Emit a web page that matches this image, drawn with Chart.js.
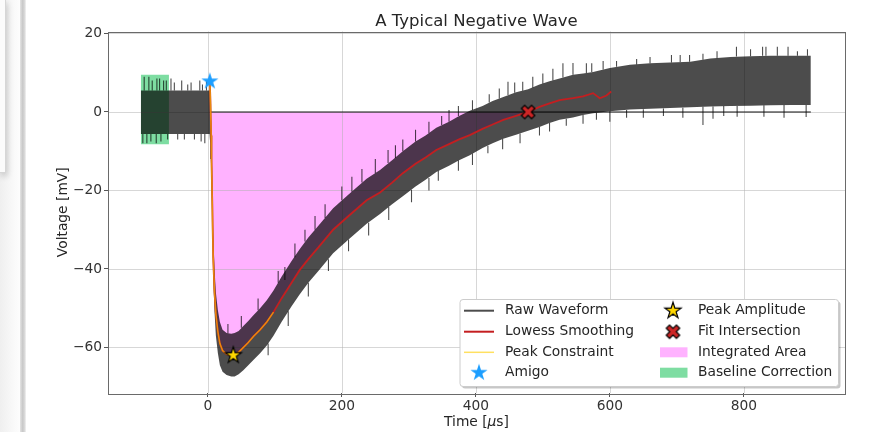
<!DOCTYPE html>
<html>
<head>
<meta charset="utf-8">
<script src="https://cdn.jsdelivr.net/npm/chart.js@4.4.1/dist/chart.umd.min.js"></script>
<style>
html,body{margin:0;padding:0;background:#fff;}
#wrap{position:relative;width:889px;height:432px;overflow:hidden;background:#fff;}
#c{position:absolute;left:0;top:0;}
.under{position:absolute;left:0;top:0;width:20px;height:432px;background:linear-gradient(to right,#efefef,#f8f8f8 60%,#fdfdfd);}
.panel{position:absolute;left:0;top:0;width:5px;height:172px;background:#fbfbfb;border-right:1px solid #d6d6d6;border-bottom:1px solid #d6d6d6;box-shadow:1px 3px 6px rgba(0,0,0,0.22);}
.stripe{position:absolute;left:20px;top:0;width:6px;height:432px;background:linear-gradient(to right,#e4e4e4,#c8c8c8 45%,#d9d9d9 75%,#f3f3f3);}
</style>
</head>
<body>
<div id="wrap">
<canvas id="c" width="889" height="432"></canvas>
<div class="under"></div><div class="panel"></div><div class="stripe"></div>
</div>
<script>
// ---------- data ----------
const xTicks = [0, 200, 400, 600, 800];
const yTicks = [-60, -40, -20, 0, 20];

// Lowess smoothing (red)
const lowessTime = [3, 4, 5, 5.5, 6.5, 8, 10, 12, 15, 18, 22, 28, 35, 40, 46, 53, 60, 68, 78, 88, 98, 110, 125, 137, 150, 165, 187, 210, 237, 257, 275, 291, 310, 325, 341, 360, 375, 391, 410, 425, 441, 460, 478, 495, 510, 525, 545, 560, 575, 585, 595, 602];
const lowessVoltage = [7.8, 2, -6, -12, -22, -37, -46, -51.5, -56, -59, -60.8, -61.7, -62, -61.8, -61.2, -60, -58.8, -57.2, -55.5, -53.5, -51, -47.5, -43.5, -40.3, -37.5, -34.5, -30, -26.5, -22.5, -20.5, -18, -15.6, -13.2, -11.6, -9.7, -8.2, -7, -5.9, -4.3, -3.2, -2.0, -1.0, 0, 1.3, 2.2, 3.0, 3.5, 4.0, 4.8, 3.5, 4.2, 5.2];

// Peak constraint (yellow)
const peakTime = [3, 4, 5, 5.5, 6.5, 8, 10, 12, 15, 18, 22, 28, 35, 40, 46, 53, 60, 68, 78, 88, 98];
const peakVoltage = [7.8, 2, -6, -12, -22, -37, -46, -51.5, -56, -59, -60.8, -61.7, -62, -61.8, -61.2, -60, -58.8, -57.2, -55.5, -53.5, -51];

// Raw waveform envelope (upper / lower edge of the noisy trace)
const rawTime = [-100, -90, -80, -70, -60, -50, -40, -30, -20, -10, 0, 2.5, 3.5, 4.5, 5.5, 6.5, 8, 10, 12, 15, 18, 22, 28, 35, 40, 46, 53, 60, 68, 78, 88, 98, 110, 125, 137, 150, 165, 187, 210, 237, 257, 275, 291, 310, 325, 341, 360, 375, 391, 410, 425, 441, 460, 478, 495, 510, 525, 545, 560, 575, 600, 630, 660, 690, 720, 750, 780, 810, 840, 870, 900];
const rawUpper = [5.5, 5.5, 5.5, 5.5, 5.5, 5.5, 5.5, 5.5, 5.5, 5.5, 5.5, 5.5, 5.5, 0, -6, -16, -31, -40, -46, -50.5, -53.5, -55.5, -56.3, -56.5, -56.3, -55.8, -54.5, -53.3, -51.8, -50, -48, -45.5, -42, -38, -35, -32, -29, -24.5, -21, -17, -14.8, -12.3, -10, -7.5, -6, -4, -2.5, -1, 0.3, 1.5, 2.8, 3.8, 5, 5.8, 7, 7.8, 8.5, 9.5, 9.8, 10.2, 11.2, 12, 12.4, 12.6, 12.8, 13.6, 14, 14.2, 14.3, 14.3, 14.3];
const rawLower = [-5.6, -5.6, -5.6, -5.6, -5.6, -5.6, -5.6, -5.6, -5.6, -5.6, -5.6, -5.6, -8, -12, -18, -28, -42, -51, -57, -61.5, -64.5, -66.2, -67, -67.4, -67.4, -66.8, -65.8, -64.6, -63.2, -61.5, -59.5, -57, -53.5, -49.5, -46.5, -43.5, -40.5, -36, -32.5, -28.5, -26, -23.5, -21.5, -19, -17.3, -15.3, -13.7, -12.3, -11, -9.2, -8, -6.8, -5.8, -4.8, -3.8, -2.8, -2, -1.4, -0.8, -0.3, 0.2, 0.6, 0.8, 1, 1.2, 1.4, 1.5, 1.6, 1.7, 1.8, 1.8];

// Isolated noise spikes of the raw waveform (time, edge value, tip value)
const spikeTime = [-95, -88, -83, -76, -72, -66, -62, -55, -50, -39, -30, -25, -12, -8, -2, -97, -91, -85, -77, -70, -60, -45, -35, -20, -10, -4.5,
  30, 50, 75, 105, 115, 130, 145, 160, 175, 200, 215, 230, 250, 269, 280, 291, 310, 330, 349, 360, 374, 395, 420, 435, 448, 458, 470, 485, 500, 515, 530, 545, 565, 573, 590, 610, 640, 660, 692, 705, 719, 739, 760, 789, 810, 828, 833, 850, 866, 880, 895,
  90, 120, 150, 180, 210, 240, 270, 304, 330, 344, 374, 395, 418, 440, 466, 495, 510, 535, 560, 580, 600, 625, 650, 680, 709, 739, 754, 770, 790, 830, 860, 893];
const spikeFrom = [5.5, 5.5, 5.5, 5.5, 5.5, 5.5, 5.5, 5.5, 5.5, 5.5, 5.5, 5.5, 5.5, 5.5, 5.5, -5.6, -5.6, -5.6, -5.6, -5.6, -5.6, -5.6, -5.6, -5.6, -5.6, -5.6,
  -56.4, -55, -50.5, -43.5, -42.8, -37, -33, -30, -27, -22.5, -20.3, -18, -15.6, -13, -11.7, -10, -7.5, -5.4, -3.3, -2.5, -1, 0.5, 2.4, 3.4, 4.3, 4.9, 5.4, 6.2, 7.2, 8, 8.8, 9.5, 9.9, 10.2, 10.8, 11.5, 12.1, 12.4, 12.6, 12.7, 12.8, 13.3, 13.7, 14.1, 14.2, 14.3, 14.3, 14.3, 14.3, 14.3, 14.3,
  -59, -50.8, -43.5, -37.5, -32.5, -28.2, -24.2, -19.8, -16.8, -15, -12.3, -10.6, -8.6, -6.9, -5.5, -3.8, -2.8, -1.7, -0.8, -0.2, 0.2, 0.5, 0.7, 0.9, 1.1, 1.3, 1.4, 1.5, 1.5, 1.7, 1.8, 1.8];
const spikeTo = [9, 9, 8, 8.5, 8.5, 8, 8, 8.5, 7.5, 8, 7, 7.5, 8, 7, 8, -8, -8, -7.5, -8, -7.5, -7, -7, -7, -7, -7.5, -8,
  -54, -52, -47.5, -40.5, -39.5, -33.5, -30, -26.5, -23.5, -19, -16.5, -14.5, -12, -9.7, -8.5, -7, -4.5, -2.5, -1, 0.5, 1.5, 3, 4.5, 6, 7.7, 7.5, 7.7, 9, 9.8, 11, 12.4, 12.5, 12.4, 12.4, 13, 13, 13.5, 14, 14.5, 14.5, 14.5, 14.8, 15.5, 16.6, 16, 16.6, 16.6, 16.6, 16.6, 15.5, 16,
  -62, -54.5, -47, -40.5, -35.5, -31.5, -27.5, -23, -20, -17.5, -15, -13.5, -10.5, -9.5, -8, -6, -5, -3.5, -3, -2, -2.5, -1.5, -1.5, -1, -1.5, -3.3, -1.7, -1, -1.2, -1.2, -1.5, -1.3];

// Zero reference line
const zeroTime = [3, 900];
const zeroVoltage = [0, 0];

// Integrated area limits
const areaStart = 4.5;
const areaEnd = 478;

// Baseline correction window
const baselineTime = [-100, -58];
const baselineTop = [9.5, 9.5];
const baselineBottom = -8.2;

// Markers
const amigoPoint = [3, 7.8];
const peakPoint = [38, -62];
const fitPoint = [478, 0];

// ---------- helpers ----------
const pts = (xs, ys) => xs.map((x, i) => ({x: x, y: ys[i]}));
const fmt = v => (v < 0 ? '\u2212' + Math.abs(v) : String(v));

function makeStar(R, fill, stroke, lw) {
  const s = Math.ceil(R * 2 + lw * 2 + 4);
  const c = document.createElement('canvas'); c.width = s; c.height = s;
  const g = c.getContext('2d');
  const cx = s / 2, cy = s / 2;
  g.beginPath();
  for (let i = 0; i < 10; i++) {
    const r = i % 2 === 0 ? R : R * 0.382;
    const a = -Math.PI / 2 + i * Math.PI / 5;
    g.lineTo(cx + r * Math.cos(a), cy + r * Math.sin(a));
  }
  g.closePath();
  g.fillStyle = fill; g.fill();
  if (stroke) { g.lineWidth = lw; g.strokeStyle = stroke; g.lineJoin = 'miter'; g.stroke(); }
  return c;
}
function makeX(R, a, fill, stroke, lw) {
  const s = Math.ceil(R * 2 + lw * 2 + 4);
  const c = document.createElement('canvas'); c.width = s; c.height = s;
  const g = c.getContext('2d');
  const cx = s / 2, cy = s / 2;
  const plus = [[a, R], [a, a], [R, a], [R, -a], [a, -a], [a, -R], [-a, -R], [-a, -a], [-R, -a], [-R, a], [-a, a], [-a, R]];
  const k = Math.SQRT1_2;
  g.beginPath();
  plus.forEach(p => { g.lineTo(cx + (p[0] - p[1]) * k, cy + (p[0] + p[1]) * k); });
  g.closePath();
  g.fillStyle = fill; g.fill();
  g.lineWidth = lw; g.strokeStyle = stroke; g.lineJoin = 'miter'; g.stroke();
  return c;
}

const COL_RAW = 'rgba(0,0,0,0.7)';
const COL_RED = 'rgb(196,30,32)';
const COL_YEL = 'rgba(255,205,0,0.62)';
const COL_PINK = 'rgba(255,0,255,0.30)';
const COL_GREEN = 'rgb(126,221,162)';
const COL_BLUE = 'rgb(28,158,255)';

const amigoImg = makeStar(9, COL_BLUE, null, 0);
const peakImg = makeStar(8.5, '#FFD700', '#000', 1.2);
const fitImg = makeX(7.2, 2.3, 'rgb(205,38,38)', '#000', 1.2);

const areaPts = lowessTime.map((t, i) => ({x: t, y: Math.min(lowessVoltage[i], 0)}))
  .filter(p => p.x >= areaStart && p.x <= areaEnd);

const spikePts = [];
spikeTime.forEach((t, i) => {
  spikePts.push({x: t, y: spikeFrom[i]}, {x: t, y: spikeTo[i]}, {x: t, y: null});
});

const noLine = {borderColor: 'transparent', borderWidth: 0, pointRadius: 0};

const datasets = [
  {label: 'Amigo', data: [{x: amigoPoint[0], y: amigoPoint[1]}], showLine: false, pointStyle: amigoImg, pointRadius: 9, order: 0},
  {label: 'Peak Amplitude', data: [{x: peakPoint[0], y: peakPoint[1]}], showLine: false, pointStyle: peakImg, pointRadius: 9, order: 0},
  {label: 'Fit Intersection', data: [{x: fitPoint[0], y: fitPoint[1]}], showLine: false, pointStyle: fitImg, pointRadius: 8, order: 0},
  {label: 'Peak Constraint', data: pts(peakTime, peakVoltage), borderColor: COL_YEL, borderWidth: 1.5, pointRadius: 0, order: 1},
  {label: 'Lowess Smoothing', data: pts(lowessTime, lowessVoltage), borderColor: COL_RED, borderWidth: 1.8, pointRadius: 0, order: 2},
  {label: 'zero', data: pts(zeroTime, zeroVoltage), borderColor: 'rgba(0,0,0,0.62)', borderWidth: 1.6, pointRadius: 0, order: 3},
  {label: 'spikes', data: spikePts, borderColor: COL_RAW, borderWidth: 1.1, pointRadius: 0, spanGaps: false, order: 4},
  Object.assign({label: 'Raw Waveform', data: pts(rawTime, rawUpper), fill: '+1', backgroundColor: COL_RAW, order: 5}, noLine),
  Object.assign({label: 'rawLower', data: pts(rawTime, rawLower), fill: false, order: 6}, noLine),
  Object.assign({label: 'Integrated Area', data: areaPts, fill: {value: 0}, backgroundColor: COL_PINK, order: 7}, noLine),
  Object.assign({label: 'Baseline Correction', data: pts(baselineTime, baselineTop), fill: {value: baselineBottom}, backgroundColor: COL_GREEN, order: 8}, noLine)
];
const PINK_INDEX = 9;

function roundRect(ctx, x, y, w, h, r) {
  ctx.beginPath();
  ctx.moveTo(x + r, y);
  ctx.lineTo(x + w - r, y); ctx.quadraticCurveTo(x + w, y, x + w, y + r);
  ctx.lineTo(x + w, y + h - r); ctx.quadraticCurveTo(x + w, y + h, x + w - r, y + h);
  ctx.lineTo(x + r, y + h); ctx.quadraticCurveTo(x, y + h, x, y + h - r);
  ctx.lineTo(x, y + r); ctx.quadraticCurveTo(x, y, x + r, y);
  ctx.closePath();
}

const FONT = '"DejaVu Sans", "Liberation Sans", sans-serif';
const TEXT = '#262626';
const FS = 13.8;
const FS_TITLE = 16.5;

const decor = {
  id: 'decor',
  afterDatasetDraw(chart, args) {
    if (args.index !== PINK_INDEX) return;
    const ctx = chart.ctx, a = chart.chartArea;
    const xs = chart.scales.x, ys = chart.scales.y;
    ctx.save();
    ctx.strokeStyle = 'rgba(176,176,176,0.5)';
    ctx.lineWidth = 1;
    ctx.beginPath();
    xTicks.forEach(v => { const p = Math.round(xs.getPixelForValue(v)) + 0.5; ctx.moveTo(p, a.top); ctx.lineTo(p, a.bottom); });
    yTicks.forEach(v => { const p = Math.round(ys.getPixelForValue(v)) + 0.5; ctx.moveTo(a.left, p); ctx.lineTo(a.right, p); });
    ctx.stroke();
    ctx.restore();
  },
  afterDraw(chart) {
    const ctx = chart.ctx, a = chart.chartArea;
    ctx.save();
    // frame
    ctx.strokeStyle = '#6a6a6a'; ctx.lineWidth = 1;
    ctx.strokeRect(Math.round(a.left) + 0.5, Math.round(a.top) + 0.5, Math.round(a.right - a.left), Math.round(a.bottom - a.top));
    // title
    ctx.fillStyle = TEXT;
    ctx.font = FS_TITLE + 'px ' + FONT; ctx.textAlign = 'center'; ctx.textBaseline = 'alphabetic';
    ctx.fillText('A Typical Negative Wave', (a.left + a.right) / 2, 25.5);
    // y label
    ctx.save();
    ctx.translate(63, (a.top + a.bottom) / 2);
    ctx.rotate(-Math.PI / 2);
    ctx.font = FS + 'px ' + FONT; ctx.textAlign = 'center'; ctx.textBaseline = 'middle';
    ctx.fillText('Voltage [mV]', 0, 0);
    ctx.restore();
    // x label with italic mu
    const p1 = 'Time [', p2 = '\u03bc', p3 = 's]';
    ctx.textAlign = 'left'; ctx.textBaseline = 'alphabetic';
    ctx.font = FS + 'px ' + FONT; const w1 = ctx.measureText(p1).width, w3 = ctx.measureText(p3).width;
    ctx.font = 'italic ' + FS + 'px ' + FONT; const w2 = ctx.measureText(p2).width;
    let x0 = (a.left + a.right) / 2 - (w1 + w2 + w3) / 2;
    const yb = 425.5;
    ctx.font = FS + 'px ' + FONT; ctx.fillText(p1, x0, yb);
    ctx.font = 'italic ' + FS + 'px ' + FONT; ctx.fillText(p2, x0 + w1, yb);
    ctx.font = FS + 'px ' + FONT; ctx.fillText(p3, x0 + w1 + w2, yb);

    // legend
    const bx = 460, by = 299.5, bw = 378.5, bh = 87;
    roundRect(ctx, bx + 2, by + 2, bw, bh, 3); ctx.fillStyle = 'rgba(0,0,0,0.22)'; ctx.fill();
    roundRect(ctx, bx, by, bw, bh, 3); ctx.fillStyle = '#fff'; ctx.fill();
    ctx.strokeStyle = '#cccccc'; ctx.lineWidth = 1; ctx.stroke();
    const rows = [310.7, 331.7, 352.3, 372.7];
    ctx.font = FS + 'px ' + FONT; ctx.textBaseline = 'middle'; ctx.textAlign = 'left'; ctx.fillStyle = TEXT;
    const lineItem = (y, col, w, label) => {
      ctx.strokeStyle = col; ctx.lineWidth = w; ctx.beginPath(); ctx.moveTo(464, y); ctx.lineTo(494, y); ctx.stroke();
      ctx.fillStyle = TEXT; ctx.fillText(label, 505, y);
    };
    lineItem(rows[0], COL_RAW, 2, 'Raw Waveform');
    lineItem(rows[1], COL_RED, 2, 'Lowess Smoothing');
    lineItem(rows[2], COL_YEL, 1.5, 'Peak Constraint');
    ctx.drawImage(amigoImg, 479 - amigoImg.width / 2, rows[3] - amigoImg.height / 2);
    ctx.fillStyle = TEXT; ctx.fillText('Amigo', 505, rows[3]);
    ctx.drawImage(peakImg, 673 - peakImg.width / 2, rows[0] - peakImg.height / 2);
    ctx.fillStyle = TEXT; ctx.fillText('Peak Amplitude', 698, rows[0]);
    ctx.drawImage(fitImg, 673 - fitImg.width / 2, rows[1] - fitImg.height / 2);
    ctx.fillStyle = TEXT; ctx.fillText('Fit Intersection', 698, rows[1]);
    ctx.fillStyle = COL_PINK; ctx.fillRect(660, rows[2] - 5, 27.5, 10);
    ctx.fillStyle = TEXT; ctx.fillText('Integrated Area', 698, rows[2]);
    ctx.fillStyle = COL_GREEN; ctx.fillRect(660, rows[3] - 5, 27.5, 10);
    ctx.fillStyle = TEXT; ctx.fillText('Baseline Correction', 698, rows[3]);
    ctx.restore();
  }
};

new Chart(document.getElementById('c'), {
  type: 'line',
  data: {datasets: datasets},
  plugins: [decor],
  options: {
    responsive: false,
    animation: false,
    devicePixelRatio: 1,
    events: [],
    layout: {padding: {left: 0, right: 44, top: 31.5, bottom: 0}},
    plugins: {legend: {display: false}, tooltip: {enabled: false}, title: {display: false}},
    elements: {line: {tension: 0}},
    scales: {
      x: {
        type: 'linear', min: -149, max: 951,
        afterBuildTicks: s => { s.ticks = xTicks.map(v => ({value: v})); },
        afterFit: s => { s.height = 39; },
        grid: {drawOnChartArea: false, drawTicks: true, tickLength: 4, tickColor: '#555', tickWidth: 1},
        border: {display: false},
        ticks: {color: '#333', font: {family: FONT, size: FS}, padding: 1, maxRotation: 0, autoSkip: false, callback: v => fmt(v)}
      },
      y: {
        type: 'linear', min: -71.6, max: 20.5,
        afterBuildTicks: s => { s.ticks = yTicks.map(v => ({value: v})); },
        afterFit: s => { s.width = 108; },
        grid: {drawOnChartArea: false, drawTicks: true, tickLength: 4, tickColor: '#555', tickWidth: 1},
        border: {display: false},
        ticks: {color: '#333', font: {family: FONT, size: FS}, padding: 2, autoSkip: false, callback: v => fmt(v)}
      }
    }
  }
});
</script>
</body>
</html>
